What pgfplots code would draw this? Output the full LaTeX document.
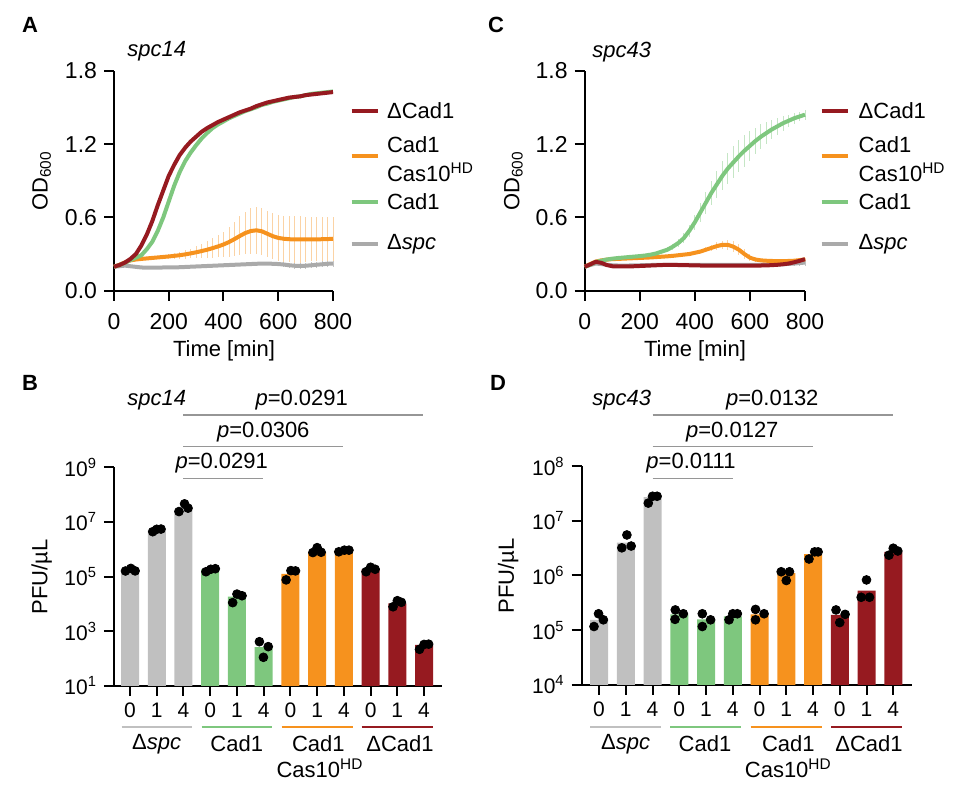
\documentclass[border=0pt]{standalone}
\usepackage{fontspec}
\setmainfont{Liberation Sans}
\usepackage{pgfplots}
\pgfplotsset{compat=1.18}
\usepackage{pgfplotstable}

\definecolor{cRed}{RGB}{150,26,32}
\definecolor{cGreen}{RGB}{126,199,126}
\definecolor{cOrange}{RGB}{246,146,30}
\definecolor{cGray}{RGB}{170,170,170}
\definecolor{cBarGray}{RGB}{192,192,192}
\definecolor{cSig}{RGB}{150,150,150}

\newcommand\legfont{\fontsize{11}{14.2}\selectfont}
\newcommand\labfont{\fontsize{11}{13}\selectfont}
\newcommand\gtickfont{\fontsize{11.5}{13}\selectfont}
\newcommand\btickfont{\fontsize{10.5}{12}\selectfont}

\pgfplotstableread{
t red green orange oe gray ge
0 0.196 0.196 0.196 0.000 0.196 0.000
20 0.210 0.210 0.212 0.005 0.200 0.003
40 0.230 0.228 0.232 0.008 0.205 0.003
60 0.260 0.250 0.248 0.010 0.200 0.004
80 0.300 0.270 0.255 0.010 0.195 0.004
100 0.370 0.290 0.260 0.010 0.190 0.004
120 0.460 0.340 0.264 0.010 0.188 0.004
140 0.570 0.400 0.268 0.012 0.188 0.004
160 0.700 0.490 0.272 0.015 0.188 0.004
180 0.820 0.600 0.276 0.018 0.190 0.004
200 0.940 0.730 0.280 0.020 0.190 0.004
220 1.030 0.860 0.285 0.025 0.190 0.004
240 1.110 0.970 0.290 0.030 0.192 0.004
260 1.170 1.060 0.297 0.035 0.194 0.004
280 1.220 1.130 0.305 0.040 0.196 0.004
300 1.260 1.190 0.314 0.050 0.198 0.004
320 1.300 1.245 0.324 0.060 0.200 0.004
340 1.330 1.290 0.335 0.070 0.202 0.005
360 1.355 1.330 0.348 0.080 0.204 0.005
380 1.380 1.360 0.362 0.090 0.206 0.005
400 1.400 1.385 0.378 0.100 0.208 0.005
420 1.420 1.410 0.398 0.120 0.210 0.005
440 1.440 1.430 0.422 0.140 0.212 0.006
460 1.460 1.450 0.448 0.160 0.214 0.006
480 1.475 1.470 0.472 0.175 0.216 0.006
500 1.490 1.485 0.488 0.185 0.218 0.008
520 1.510 1.500 0.494 0.190 0.220 0.010
540 1.525 1.520 0.486 0.190 0.222 0.012
560 1.540 1.530 0.466 0.190 0.222 0.014
580 1.550 1.545 0.446 0.190 0.220 0.016
600 1.560 1.555 0.432 0.190 0.218 0.018
620 1.570 1.565 0.425 0.190 0.214 0.020
640 1.580 1.575 0.421 0.190 0.208 0.022
660 1.585 1.585 0.420 0.190 0.204 0.024
680 1.590 1.590 0.420 0.190 0.202 0.025
700 1.600 1.600 0.420 0.185 0.204 0.026
720 1.605 1.610 0.420 0.180 0.208 0.026
740 1.610 1.615 0.420 0.180 0.212 0.026
760 1.615 1.620 0.421 0.180 0.216 0.026
780 1.620 1.625 0.422 0.180 0.220 0.026
800 1.625 1.630 0.425 0.180 0.222 0.026
}\tabA

\pgfplotstableread{
t red green ge orange oe gray gre
0 0.196 0.196 0.000 0.196 0.000 0.196 0.000
20 0.215 0.212 0.004 0.218 0.004 0.210 0.003
40 0.236 0.235 0.005 0.238 0.005 0.222 0.003
60 0.228 0.245 0.005 0.248 0.005 0.218 0.003
80 0.210 0.255 0.005 0.254 0.005 0.212 0.003
100 0.200 0.262 0.005 0.258 0.005 0.208 0.003
120 0.198 0.267 0.005 0.260 0.005 0.206 0.003
140 0.198 0.271 0.005 0.262 0.005 0.206 0.003
160 0.199 0.275 0.005 0.264 0.005 0.206 0.003
180 0.200 0.279 0.005 0.266 0.005 0.207 0.003
200 0.202 0.283 0.006 0.268 0.005 0.208 0.003
220 0.204 0.288 0.008 0.270 0.005 0.209 0.003
240 0.206 0.295 0.010 0.272 0.005 0.210 0.003
260 0.208 0.305 0.012 0.275 0.005 0.211 0.003
280 0.210 0.320 0.015 0.278 0.006 0.212 0.003
300 0.211 0.335 0.020 0.281 0.006 0.212 0.003
320 0.211 0.360 0.025 0.285 0.007 0.212 0.003
340 0.210 0.390 0.030 0.290 0.008 0.212 0.003
360 0.209 0.430 0.040 0.295 0.009 0.212 0.003
380 0.208 0.490 0.050 0.300 0.010 0.212 0.003
400 0.207 0.560 0.060 0.310 0.012 0.212 0.003
420 0.206 0.640 0.075 0.320 0.015 0.212 0.003
440 0.205 0.720 0.090 0.335 0.020 0.212 0.004
460 0.205 0.800 0.100 0.350 0.025 0.212 0.004
480 0.205 0.870 0.110 0.365 0.030 0.212 0.004
500 0.205 0.940 0.120 0.375 0.035 0.212 0.004
520 0.205 1.000 0.130 0.375 0.040 0.212 0.004
540 0.205 1.050 0.130 0.360 0.045 0.212 0.004
560 0.205 1.100 0.130 0.335 0.045 0.212 0.004
580 0.205 1.145 0.130 0.300 0.040 0.212 0.005
600 0.205 1.185 0.120 0.270 0.030 0.212 0.006
620 0.205 1.225 0.110 0.255 0.020 0.212 0.008
640 0.206 1.260 0.100 0.248 0.015 0.212 0.010
660 0.207 1.290 0.090 0.245 0.012 0.213 0.012
680 0.209 1.320 0.080 0.243 0.010 0.214 0.014
700 0.212 1.345 0.070 0.242 0.010 0.215 0.016
720 0.216 1.370 0.060 0.242 0.010 0.217 0.018
740 0.222 1.390 0.050 0.243 0.010 0.219 0.020
760 0.232 1.410 0.045 0.245 0.010 0.222 0.022
780 0.244 1.425 0.040 0.250 0.010 0.226 0.024
800 0.258 1.440 0.040 0.256 0.010 0.230 0.026
}\tabC

\pgfplotsset{
  base/.style={scale only axis, axis lines=left,
    axis line style={-, line width=1pt, black},
    tick style={line width=1pt, black}, major tick length=5pt,
    tick align=outside, clip=false},
  growth/.style={base, xmin=0, xmax=800, ymin=0, ymax=1.8,
    xtick={0,200,400,600,800}, xticklabels={0,200,400,600,800},
    ytick={0,0.6,1.2,1.8}, yticklabels={0.0,0.6,1.2,1.8},
    tick label style={font=\gtickfont}, xticklabel shift=3pt},
  errs/.style={draw=none, mark=none, forget plot,
    error bars/.cd, y dir=both, y explicit, error mark=none,
    error bar style={line width=0.45pt, draw=#1, solid}},
  curve/.style={color=#1, line width=2pt, mark=none},
  bars/.style={base, log origin=infty, yminorticks=false,
    xtick={0,1,2,3,4,5,6,7,8,9,10,11},
    xticklabels={0,1,4,0,1,4,0,1,4,0,1,4},
    tick label style={font=\btickfont}},
  bar/.style={ybar, bar width=9pt, bar shift=0pt, fill=#1, draw=none},
  dots/.style={only marks, mark=*, mark size=2.2pt, color=black},
}

\begin{document}
\begin{tikzpicture}
\path[use as bounding box] (0,0) rectangle (480pt,392.5pt);

% ---------------- Panel A ----------------
\begin{axis}[growth, at={(57pt,247.15pt)}, anchor=south west, width=109.5pt, height=110pt]
\addplot[errs=cGray!70] table[x=t,y=gray,y error=ge]{\tabA};
\addplot[curve=cGray] table[x=t,y=gray]{\tabA};
\addplot[errs=cOrange!40] table[x=t,y=orange,y error=oe]{\tabA};
\addplot[curve=cOrange] table[x=t,y=orange]{\tabA};
\addplot[curve=cGreen] table[x=t,y=green]{\tabA};
\addplot[curve=cRed] table[x=t,y=red]{\tabA};
\end{axis}
\node[font=\bfseries\labfont] at (15pt,380pt) {A};
\node[font=\itshape\labfont] at (78.35pt,366.65pt) {spc14};
\node[font=\labfont, rotate=90] at (20.85pt,302pt) {OD\textsubscript{600}};
\node[font=\labfont] at (112pt,217pt) {Time [min]};
\draw[cRed, line width=2pt] (175.85pt,337pt) -- (189.15pt,337pt);
\node[anchor=west, inner sep=0pt, font=\legfont] at (193.35pt,337pt) {ΔCad1};
\draw[cOrange, line width=2pt] (175.85pt,314.65pt) -- (189.15pt,314.65pt);
\node[anchor=west, inner sep=0pt, align=left, font=\legfont] at (193.35pt,312.9pt) {Cad1\\Cas10\textsuperscript{HD}};
\draw[cGreen, line width=2pt] (175.85pt,291.65pt) -- (189.15pt,291.65pt);
\node[anchor=west, inner sep=0pt, font=\legfont] at (193.35pt,291.65pt) {Cad1};
\draw[cGray, line width=2pt] (175.85pt,270.35pt) -- (189.15pt,270.35pt);
\node[anchor=west, inner sep=0pt, font=\legfont] at (193.35pt,270.35pt) {Δ\textit{spc}};

% ---------------- Panel C ----------------
\begin{axis}[growth, at={(292.35pt,247.15pt)}, anchor=south west, width=110.15pt, height=110pt]
\addplot[errs=cGray!70] table[x=t,y=gray,y error=gre]{\tabC};
\addplot[curve=cGray] table[x=t,y=gray]{\tabC};
\addplot[errs=cOrange!40] table[x=t,y=orange,y error=oe]{\tabC};
\addplot[errs=cGreen!45] table[x=t,y=green,y error=ge]{\tabC};
\addplot[curve=cOrange] table[x=t,y=orange]{\tabC};
\addplot[curve=cGreen] table[x=t,y=green]{\tabC};
\addplot[curve=cRed] table[x=t,y=red]{\tabC};
\end{axis}
\node[font=\bfseries\labfont] at (248pt,380pt) {C};
\node[font=\itshape\labfont] at (310.85pt,366.65pt) {spc43};
\node[font=\labfont, rotate=90] at (256.65pt,302pt) {OD\textsubscript{600}};
\node[font=\labfont] at (347.5pt,217pt) {Time [min]};
\draw[cRed, line width=2pt] (410.85pt,337pt) -- (424.15pt,337pt);
\node[anchor=west, inner sep=0pt, font=\legfont] at (429.15pt,337pt) {ΔCad1};
\draw[cOrange, line width=2pt] (410.85pt,314.65pt) -- (424.15pt,314.65pt);
\node[anchor=west, inner sep=0pt, align=left, font=\legfont] at (429.15pt,312.9pt) {Cad1\\Cas10\textsuperscript{HD}};
\draw[cGreen, line width=2pt] (410.85pt,291.65pt) -- (424.15pt,291.65pt);
\node[anchor=west, inner sep=0pt, font=\legfont] at (429.15pt,291.65pt) {Cad1};
\draw[cGray, line width=2pt] (410.85pt,270.35pt) -- (424.15pt,270.35pt);
\node[anchor=west, inner sep=0pt, font=\legfont] at (429.15pt,270.35pt) {Δ\textit{spc}};

% ---------------- Panel B ----------------
\begin{axis}[bars, at={(57pt,49.5pt)}, anchor=south west, width=163.85pt, height=109.35pt,
  ymode=log, ymin=10, ymax=1e9, xmin=-0.6, xmax=11.66,
  ytick={1e1,1e3,1e5,1e7,1e9},
  yticklabels={10\textsuperscript{1},10\textsuperscript{3},10\textsuperscript{5},10\textsuperscript{7},10\textsuperscript{9}}]
\addplot[bar=cBarGray] coordinates {(0,1.66e5) (1,5.2e6) (2,2.9e7)};
\addplot[bar=cGreen] coordinates {(3,1.86e5) (4,1.86e4) (5,263)};
\addplot[bar=cOrange] coordinates {(6,1.26e5) (7,8.1e5) (8,8.7e5)};
\addplot[bar=cRed] coordinates {(9,1.86e5) (10,1.05e4) (11,316)};
\addplot[dots] coordinates {
(-0.17,1.61e5) (0.03,2.0e5) (0.19,1.62e5)
(0.85,4.4e6) (1.0,5.4e6) (1.16,5.5e6)
(1.83,2.4e7) (2.04,4.6e7) (2.17,3.2e7)
(2.84,1.51e5) (3.02,1.86e5) (3.19,1.95e5)
(3.84,1.12e4) (4.0,2.3e4) (4.19,2.0e4)
(4.84,417) (5.17,275) (4.99,112)
(5.84,7.6e4) (6.02,1.66e5) (6.19,1.62e5)
(6.84,7.6e5) (7.0,1.15e6) (7.15,7.8e5)
(7.81,8.1e5) (8.02,9.3e5) (8.19,9.3e5)
(8.83,1.51e5) (9.0,2.2e5) (9.17,1.86e5)
(9.84,7.9e3) (10.0,1.32e4) (10.15,1.15e4)
(10.83,219) (11.0,331) (11.17,339)
};
\end{axis}
\node[font=\bfseries\labfont] at (15pt,201pt) {B};
\node[font=\itshape\legfont] at (78.35pt,192.5pt) {spc14};
\node[font=\labfont, rotate=90] at (20.85pt,104.15pt) {PFU/µL};
\draw[cSig, line width=0.7pt] (91.65pt,153.35pt) -- (131.65pt,153.35pt);
\draw[cSig, line width=0.7pt] (91.65pt,169.15pt) -- (171.65pt,169.15pt);
\draw[cSig, line width=0.7pt] (91.65pt,185pt) -- (211.65pt,185pt);
\node[font=\legfont] at (110.85pt,160.85pt) {\textit{p}=0.0291};
\node[font=\legfont] at (131.65pt,176.65pt) {\textit{p}=0.0306};
\node[font=\legfont] at (150.85pt,192.5pt) {\textit{p}=0.0291};
\draw[cBarGray, line width=1pt] (60.85pt,28.85pt) -- (95.85pt,28.85pt);
\draw[cGreen, line width=1pt] (100.85pt,28.85pt) -- (135.85pt,28.85pt);
\draw[cOrange, line width=1pt] (140.85pt,28.85pt) -- (176.35pt,28.85pt);
\draw[cRed, line width=1pt] (180.85pt,28.85pt) -- (216.35pt,28.85pt);
\node[font=\labfont] at (78.35pt,20.5pt) {Δ\textit{spc}};
\node[font=\labfont] at (118.35pt,20.5pt) {Cad1};
\node[font=\labfont] at (159.15pt,20.5pt) {Cad1};
\node[font=\labfont] at (200pt,20.5pt) {ΔCad1};
\node[font=\labfont] at (160pt,8.35pt) {Cas10\textsuperscript{HD}};

% ---------------- Panel D ----------------
\begin{axis}[bars, at={(290.85pt,50pt)}, anchor=south west, width=165pt, height=109.5pt,
  ymode=log, ymin=1e4, ymax=1e8, xmin=-0.65, xmax=11.69,
  ytick={1e4,1e5,1e6,1e7,1e8},
  yticklabels={10\textsuperscript{4},10\textsuperscript{5},10\textsuperscript{6},10\textsuperscript{7},10\textsuperscript{8}}]
\addplot[bar=cBarGray] coordinates {(0,1.55e5) (1,4.0e6) (2,2.7e7)};
\addplot[bar=cGreen] coordinates {(3,1.95e5) (4,1.58e5) (5,1.8e5)};
\addplot[bar=cOrange] coordinates {(6,1.95e5) (7,1.1e6) (8,2.45e6)};
\addplot[bar=cRed] coordinates {(9,1.9e5) (10,5.3e5) (11,2.7e6)};
\addplot[dots] coordinates {
(-0.19,1.17e5) (-0.02,2.0e5) (0.16,1.55e5)
(0.85,3.2e6) (1.04,5.5e6) (1.2,3.45e6)
(1.84,2.1e7) (2.0,2.8e7) (2.17,2.8e7)
(2.84,1.58e5) (2.85,2.35e5) (3.15,2.0e5)
(3.86,1.17e5) (3.86,2.0e5) (4.17,1.55e5)
(4.86,1.55e5) (5.0,2.0e5) (5.17,2.0e5)
(5.85,1.55e5) (5.85,2.4e5) (6.17,2.0e5)
(6.81,1.17e6) (7.0,8.1e5) (7.12,1.17e6)
(7.85,2.0e6) (8.06,2.7e6) (8.19,2.7e6)
(8.86,2.35e5) (9.2,1.95e5) (9.0,1.38e5)
(9.8,4.0e5) (10.0,8.3e5) (10.11,4.0e5)
(10.84,2.35e6) (11.0,3.15e6) (11.17,2.8e6)
};
\end{axis}
\node[font=\bfseries\labfont] at (249pt,201pt) {D};
\node[font=\itshape\legfont] at (310.85pt,192.5pt) {spc43};
\node[font=\labfont, rotate=90] at (254.15pt,104.5pt) {PFU/µL};
\draw[cSig, line width=0.7pt] (326.25pt,153.35pt) -- (366.35pt,153.35pt);
\draw[cSig, line width=0.7pt] (326.25pt,169.15pt) -- (406.65pt,169.15pt);
\draw[cSig, line width=0.7pt] (326.25pt,185pt) -- (446.65pt,185pt);
\node[font=\legfont] at (345.5pt,160.85pt) {\textit{p}=0.0111};
\node[font=\legfont] at (366.15pt,176.65pt) {\textit{p}=0.0127};
\node[font=\legfont] at (386.15pt,192.5pt) {\textit{p}=0.0132};
\draw[cBarGray, line width=1pt] (295pt,28.85pt) -- (330.35pt,28.85pt);
\draw[cGreen, line width=1pt] (335pt,28.85pt) -- (370.35pt,28.85pt);
\draw[cOrange, line width=1pt] (375.35pt,28.85pt) -- (410.85pt,28.85pt);
\draw[cRed, line width=1pt] (415.5pt,28.85pt) -- (450.85pt,28.85pt);
\node[font=\labfont] at (312.85pt,20.5pt) {Δ\textit{spc}};
\node[font=\labfont] at (352.5pt,20.5pt) {Cad1};
\node[font=\labfont] at (394.15pt,20.5pt) {Cad1};
\node[font=\labfont] at (434.5pt,20.5pt) {ΔCad1};
\node[font=\labfont] at (394.15pt,8.35pt) {Cas10\textsuperscript{HD}};
\end{tikzpicture}
\end{document}
